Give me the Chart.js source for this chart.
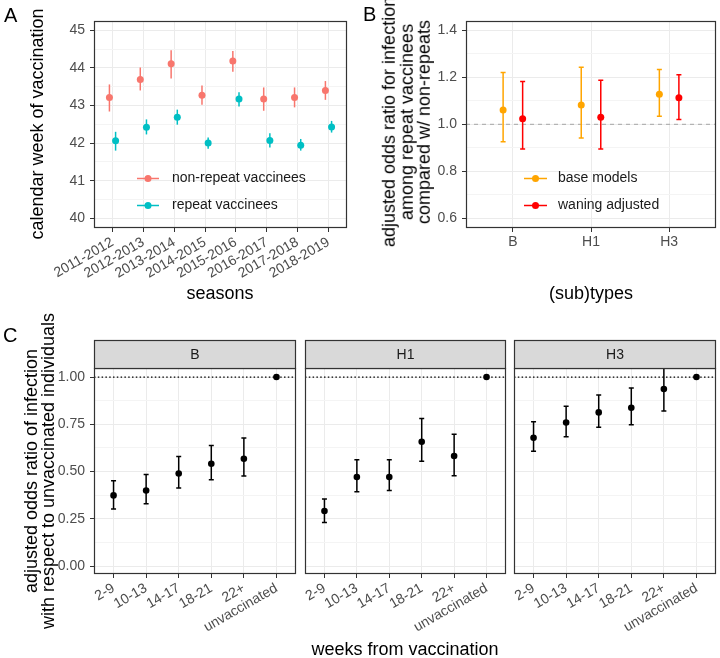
<!DOCTYPE html>
<html>
<head>
<meta charset="utf-8">
<script src="https://cdn.jsdelivr.net/npm/chart.js@4.4.1/dist/chart.umd.min.js"></script>
<style>
body { margin: 0; background: #fff; }
#wrap { position: relative; width: 720px; height: 658px; overflow: hidden; font-family: "Liberation Sans", Arial, sans-serif; }
canvas { position: absolute; }
.lbl { position: absolute; font-size: 20px; line-height: 20px; color: #000; }
.ttl { position: absolute; font-size: 18px; color: #000; white-space: nowrap; text-align: center; line-height: 17px; transform: translate(-50%, -50%); }
.ttl.rot { transform: translate(-50%, -50%) rotate(-90deg); }
</style>
</head>
<body>
<div id="wrap">
  <canvas id="chartA" width="360" height="310" style="left:0;top:0"></canvas>
  <canvas id="chartB" width="360" height="310" style="left:360px;top:0"></canvas>
  <canvas id="chartC1" width="300" height="328" style="left:0;top:330px"></canvas>
  <canvas id="chartC2" width="210" height="328" style="left:300px;top:330px"></canvas>
  <canvas id="chartC3" width="210" height="328" style="left:510px;top:330px"></canvas>

  <div class="lbl" style="left:4px;top:5px">A</div>
  <div class="lbl" style="left:363px;top:4px">B</div>
  <div class="lbl" style="left:3px;top:325px">C</div>

  <div class="ttl rot" style="left:37px;top:124px">calendar week of vaccination</div>
  <div class="ttl" style="left:220px;top:293px">seasons</div>
  <div class="ttl rot" style="left:407px;top:122px;line-height:17.5px">adjusted odds ratio for infection<br>among repeat vaccinees<br>compared w/ non-repeats</div>
  <div class="ttl" style="left:591px;top:293px">(sub)types</div>
  <div class="ttl rot" style="left:40px;top:471px">adjusted odds ratio of infection<br>with respect to unvaccinated individuals</div>
  <div class="ttl" style="left:405px;top:649px">weeks from vaccination</div>
</div>

<script>
// panel A: week of vaccination per season
const seasons = ['2011-2012', '2012-2013', '2013-2014', '2014-2015', '2015-2016', '2016-2017', '2017-2018', '2018-2019'];
const nonRepeatWeek = [43.21, 43.69, 44.11, 43.27, 44.18, 43.17, 43.21, 43.40];
const nonRepeatLo = [42.84, 43.40, 43.72, 43.02, 43.90, 42.86, 42.95, 43.15];
const nonRepeatHi = [43.56, 44.01, 44.47, 43.53, 44.45, 43.48, 43.48, 43.65];
const repeatWeek = [42.06, 42.42, 42.69, 42.00, 43.17, 42.07, 41.94, 42.43];
const repeatLo = [41.80, 42.23, 42.49, 41.85, 42.97, 41.88, 41.80, 42.28];
const repeatHi = [42.30, 42.63, 42.89, 42.15, 43.35, 42.26, 42.11, 42.59];
const weekTicks = [40, 41, 42, 43, 44, 45];

// panel B: repeat vs non-repeat odds ratios
const subtypes = ['B', 'H1', 'H3'];
const baseOR = [1.061, 1.082, 1.128];
const baseLo = [0.926, 0.942, 1.034];
const baseHi = [1.220, 1.243, 1.233];
const waningOR = [1.024, 1.030, 1.113];
const waningLo = [0.895, 0.895, 1.020];
const waningHi = [1.182, 1.187, 1.211];
const orTicks = [0.6, 0.8, 1.0, 1.2, 1.4];

// panel C: odds ratio by weeks since vaccination
const weekBins = ['2-9', '10-13', '14-17', '18-21', '22+', 'unvaccinated'];
const facets = ['B', 'H1', 'H3'];
const orB = [0.374, 0.400, 0.490, 0.541, 0.568, 1];
const loB = [0.302, 0.330, 0.413, 0.457, 0.476, null];
const hiB = [0.451, 0.485, 0.580, 0.638, 0.677, null];
const orH1 = [0.291, 0.471, 0.471, 0.658, 0.582, 1];
const loH1 = [0.231, 0.393, 0.400, 0.554, 0.478, null];
const hiH1 = [0.355, 0.563, 0.563, 0.781, 0.697, null];
const orH3 = [0.679, 0.760, 0.813, 0.838, 0.937, 1];
const loH3 = [0.607, 0.684, 0.735, 0.748, 0.820, null];
const hiH3 = [0.764, 0.845, 0.905, 0.942, 1.080, null];
const relTicks = [0, 0.25, 0.5, 0.75, 1];

const FONT = "'Liberation Sans', Arial, sans-serif";

function near(list, v) {
  return list.some(m => Math.abs(m - v) < 1e-6);
}

function withMinors(majors) {
  const out = [];
  majors.forEach((m, i) => {
    out.push(m);
    if (i < majors.length - 1) out.push((m + majors[i + 1]) / 2);
  });
  return out;
}

// draws ref line + error bars under points, then border / strip / legend on top
const ggPlugin = {
  id: 'gg',
  beforeDatasetsDraw(chart, args, opts) {
    const { ctx, chartArea: a, scales: { x, y } } = chart;
    ctx.save();
    ctx.beginPath();
    ctx.rect(a.left, a.top, a.width, a.height);
    ctx.clip();
    if (opts.refLine) {
      const py = y.getPixelForValue(opts.refLine.value);
      ctx.strokeStyle = opts.refLine.color;
      ctx.lineWidth = opts.refLine.width;
      ctx.setLineDash(opts.refLine.dash);
      ctx.beginPath();
      ctx.moveTo(a.left, py);
      ctx.lineTo(a.right, py);
      ctx.stroke();
      ctx.setLineDash([]);
    }
    chart.data.datasets.forEach(ds => {
      ctx.strokeStyle = ds.pointBackgroundColor;
      ctx.lineWidth = ds.barWidth;
      ds.data.forEach((p, i) => {
        if (ds.lo[i] == null) return;
        const px = x.getPixelForValue(p.x);
        const y1 = y.getPixelForValue(ds.lo[i]);
        const y2 = y.getPixelForValue(ds.hi[i]);
        ctx.beginPath();
        ctx.moveTo(px, y1);
        ctx.lineTo(px, y2);
        if (ds.cap) {
          ctx.moveTo(px - ds.cap, y1); ctx.lineTo(px + ds.cap, y1);
          ctx.moveTo(px - ds.cap, y2); ctx.lineTo(px + ds.cap, y2);
        }
        ctx.stroke();
      });
    });
    ctx.restore();
  },
  afterDraw(chart, args, opts) {
    const { ctx, chartArea: a } = chart;
    ctx.save();
    ctx.strokeStyle = '#333333';
    ctx.lineWidth = 1.2;
    ctx.strokeRect(a.left + 0.5, a.top + 0.5, a.width - 1, a.height - 1);
    if (opts.strip) {
      ctx.fillStyle = '#D9D9D9';
      ctx.fillRect(a.left, a.top - 28, a.width, 28);
      ctx.strokeRect(a.left + 0.5, a.top - 27.5, a.width - 1, 28);
      ctx.fillStyle = '#1A1A1A';
      ctx.font = '14px ' + FONT;
      ctx.textAlign = 'center';
      ctx.textBaseline = 'middle';
      ctx.fillText(opts.strip, a.left + a.width / 2, a.top - 13);
    }
    if (opts.legend) {
      const L = opts.legend;
      chart.data.datasets.forEach((ds, i) => {
        const yy = L.y + i * L.gap;
        ctx.strokeStyle = ds.pointBackgroundColor;
        ctx.fillStyle = ds.pointBackgroundColor;
        ctx.lineWidth = 1.5;
        ctx.beginPath();
        ctx.moveTo(L.x1, yy);
        ctx.lineTo(L.x2, yy);
        ctx.stroke();
        ctx.beginPath();
        ctx.arc((L.x1 + L.x2) / 2, yy, 3.5, 0, Math.PI * 2);
        ctx.fill();
        ctx.fillStyle = '#1A1A1A';
        ctx.font = '14px ' + FONT;
        ctx.textAlign = 'left';
        ctx.textBaseline = 'middle';
        ctx.fillText(ds.label, L.tx, yy);
      });
    }
    ctx.restore();
  }
};

function xAxis(labels, height, rotation) {
  return {
    type: 'linear',
    min: -0.6,
    max: labels.length - 0.4,
    afterBuildTicks: s => { s.ticks = labels.map((l, i) => ({ value: i })); },
    afterFit: s => { s.height = height; s.paddingLeft = 0; s.paddingRight = 0; },
    border: { display: false },
    grid: { color: '#EBEBEB', lineWidth: 1, tickColor: '#333333', tickLength: 4 },
    ticks: {
      autoSkip: false, minRotation: rotation, maxRotation: rotation, padding: 2,
      color: '#4D4D4D', font: { family: FONT, size: 14 },
      callback: v => labels[Math.round(v)]
    }
  };
}

function yAxis(min, max, majors, digits, width, showTicks) {
  return {
    type: 'linear',
    min: min,
    max: max,
    afterBuildTicks: s => { s.ticks = withMinors(majors).map(v => ({ value: v })); },
    afterFit: s => { s.width = width; s.paddingTop = 0; s.paddingBottom = 0; },
    border: { display: false },
    grid: {
      color: c => (c.tick && !near(majors, c.tick.value)) ? '#F4F4F4' : '#EBEBEB',
      tickColor: c => (c.tick && !near(majors, c.tick.value)) ? 'rgba(0,0,0,0)' : '#333333',
      drawTicks: showTicks,
      tickLength: 4
    },
    ticks: {
      display: showTicks, autoSkip: false, padding: 5,
      color: '#4D4D4D', font: { family: FONT, size: 14 },
      callback: v => near(majors, v) ? v.toFixed(digits) : ''
    }
  };
}

function series(label, vals, lo, hi, shift, color, cap, radius) {
  return {
    label: label,
    data: vals.map((v, i) => ({ x: i + shift, y: v })),
    lo: lo,
    hi: hi,
    cap: cap,
    barWidth: 1.5,
    pointBackgroundColor: color,
    backgroundColor: color,
    borderColor: color,
    pointBorderWidth: 0,
    pointRadius: radius
  };
}

function makeChart(id, datasets, scales, padding, gg) {
  return new Chart(document.getElementById(id), {
    type: 'scatter',
    data: { datasets: datasets },
    options: {
      responsive: false,
      animation: false,
      events: [],
      layout: { padding: padding },
      scales: scales,
      plugins: { legend: { display: false }, tooltip: { enabled: false }, gg: gg }
    },
    plugins: [ggPlugin]
  });
}

// A
makeChart('chartA', [
  series('non-repeat vaccinees', nonRepeatWeek, nonRepeatLo, nonRepeatHi, -0.1, '#F8766D', 0, 3.5),
  series('repeat vaccinees', repeatWeek, repeatLo, repeatHi, 0.1, '#00BFC4', 0, 3.5)
], {
  x: xAxis(seasons, 82, 30),
  y: yAxis(39.742, 45.247, weekTicks, 0, 94, true)
}, { left: 0, top: 21, right: 13, bottom: 0 }, {
  legend: { x1: 137, x2: 159, y: 178.5, gap: 27, tx: 172 }
});

// B
makeChart('chartB', [
  series('base models', baseOR, baseLo, baseHi, -0.125, '#FFA500', 2.5, 3.5),
  series('waning adjusted', waningOR, waningLo, waningHi, 0.125, '#FF0000', 2.5, 3.5)
], {
  x: xAxis(subtypes, 82, 0),
  y: yAxis(0.5587, 1.4396, orTicks, 1, 106, true)
}, { left: 0, top: 21, right: 3, bottom: 0 }, {
  refLine: { value: 1, color: '#A6A6A6', width: 1, dash: [4, 4] },
  legend: { x1: 164, x2: 187, y: 178.5, gap: 27, tx: 198 }
});

// C facets
const facetData = [[orB, loB, hiB], [orH1, loH1, hiH1], [orH3, loH3, hiH3]];
const facetIds = ['chartC1', 'chartC2', 'chartC3'];
const facetPad = [
  { left: 0, top: 38, right: 4, bottom: 0 },
  { left: 0, top: 38, right: 4, bottom: 0 },
  { left: 0, top: 38, right: 3, bottom: 0 }
];
facets.forEach((f, k) => {
  const d = facetData[k];
  makeChart(facetIds[k], [
    series(f, d[0], d[1], d[2], 0, '#000000', 2.5, 3.3)
  ], {
    x: xAxis(weekBins, 84, 30),
    y: yAxis(-0.042, 1.048, relTicks, 2, k === 0 ? 94 : (k === 1 ? 5 : 4), k === 0)
  }, facetPad[k], {
    refLine: { value: 1, color: '#000000', width: 1.2, dash: [1.5, 2.3] },
    strip: f
  });
});
</script>
</body>
</html>
